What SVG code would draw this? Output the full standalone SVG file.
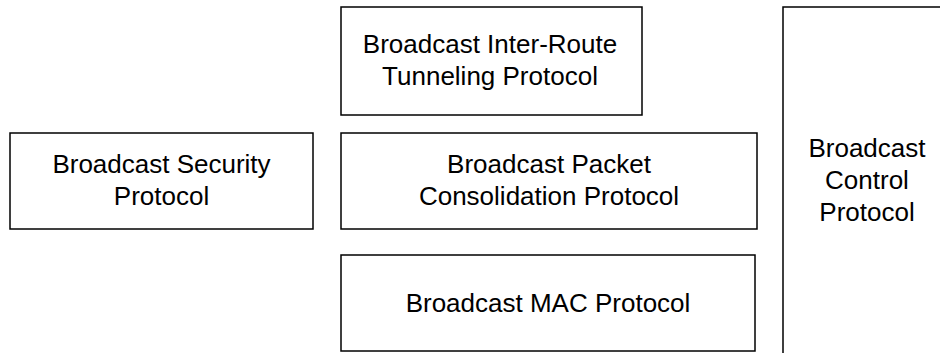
<svg xmlns="http://www.w3.org/2000/svg" width="940" height="353" viewBox="0 0 940 353">
<style>
.box{fill:#fff;stroke:#000;stroke-width:1.5}
.t{font-family:"Liberation Sans",Arial,sans-serif;font-size:26px;fill:#000;text-anchor:middle}
</style>
<rect width="940" height="353" fill="#fff"/>
<g id="connectors"/>
<g id="tunneling">
<rect class="box" x="341" y="7" width="301" height="108"/>
<text class="t" x="490" y="53">Broadcast Inter-Route</text>
<text class="t" x="490" y="85">Tunneling Protocol</text>
</g>
<g id="security">
<rect class="box" x="10" y="133" width="303" height="96"/>
<text class="t" x="161.5" y="173">Broadcast Security</text>
<text class="t" x="161.5" y="205">Protocol</text>
</g>
<g id="consolidation">
<rect class="box" x="341" y="133" width="416" height="96"/>
<text class="t" x="549" y="173">Broadcast Packet</text>
<text class="t" x="549" y="205">Consolidation Protocol</text>
</g>
<g id="mac">
<rect class="box" x="341" y="255" width="414" height="96"/>
<text class="t" x="548" y="312">Broadcast MAC Protocol</text>
</g>
<g id="control">
<rect class="box" x="783" y="7" width="168" height="360"/>
<text class="t" x="867" y="157">Broadcast</text>
<text class="t" x="867" y="189">Control</text>
<text class="t" x="867" y="221">Protocol</text>
</g>
</svg>
